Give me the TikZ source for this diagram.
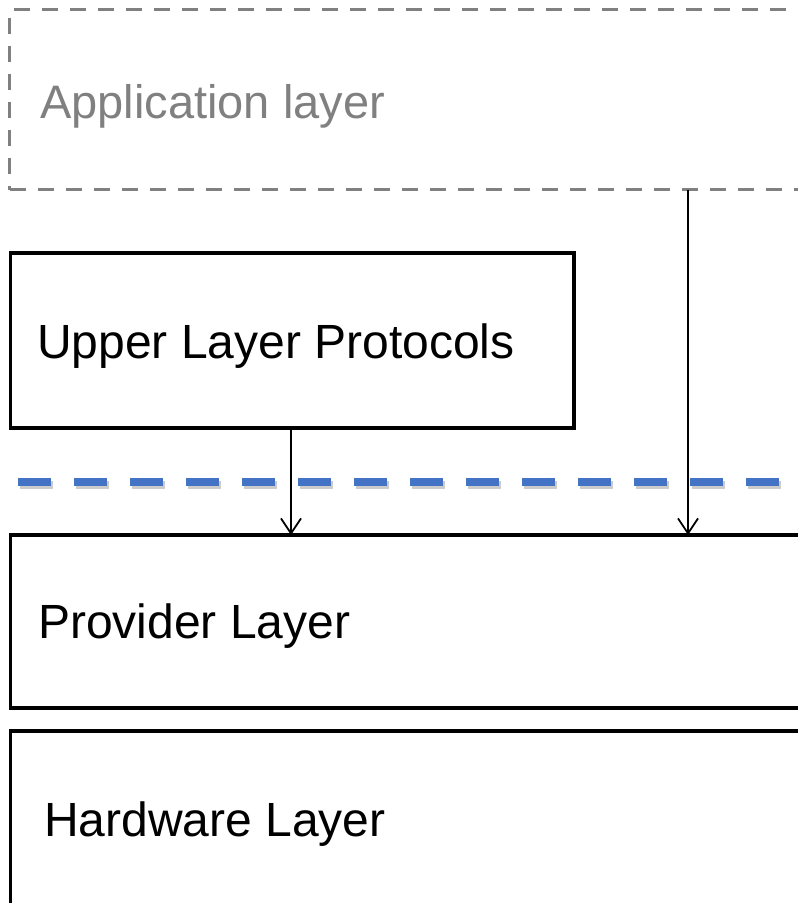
\documentclass[tikz,border=0pt]{standalone}
\usepackage{fontspec}
\setmainfont{Liberation Sans}
\usetikzlibrary{arrows.meta}
\definecolor{appgray}{HTML}{808080}
\definecolor{sepblue}{HTML}{4472C4}
\tikzset{
  layerbox/.style={draw=black, line width=3.5pt, inner sep=0pt, outer sep=0pt, anchor=north west},
  appbox/.style={draw=appgray, line width=3.5pt, dash pattern=on 16pt off 12pt, inner sep=0pt, outer sep=0pt, anchor=north west},
  lbl/.style={anchor=base west, inner sep=0pt, font=\fontsize{48}{58}\selectfont},
  arr/.style={line width=1.8pt, -{Straight Barb[length=15pt,width=20pt,line width=1.8pt]}},
}
\begin{document}
\begin{tikzpicture}[x=1pt,y=-1pt]
\useasboundingbox (0,0) rectangle (798,903);
\clip (0,0) rectangle (798,903);
% application layer (dashed)
\node[appbox, minimum width=900pt, minimum height=180pt] (app) at (9.5,9.5) {};
\node[lbl, text=appgray, font=\fontsize{47}{56}\selectfont] (apptxt) at (40,118) {Application layer};
% upper layer protocols
\node[layerbox, minimum width=563.5pt, minimum height=175pt] (ulp) at (10.5,253) {};
\node[lbl] (ulptxt) at (37,358) {Upper Layer Protocols};
% separator line with shadow
\coordinate (sepL) at (18,482);
\coordinate (sepR) at (781,482);
\draw[black, opacity=0.2, line width=8pt, dash pattern=on 33pt off 23pt] ([shift={(1.5,3)}]sepL) -- ([shift={(1.5,3)}]sepR);
\draw[sepblue, line width=8pt, dash pattern=on 33pt off 23pt] (sepL) -- (sepR);
% provider layer
\node[layerbox, minimum width=900pt, minimum height=173pt] (prov) at (10.5,535) {};
\node[lbl] (provtxt) at (38,638) {Provider Layer};
% hardware layer
\node[layerbox, minimum width=900pt, minimum height=260pt] (hw) at (10.5,731) {};
\node[lbl] (hwtxt) at (44,836) {Hardware Layer};
% arrows
\coordinate (a1) at (291,0);
\coordinate (a2) at (688,0);
\draw[arr] (a1 |- ulp.south) -- (a1 |- prov.north);
\draw[arr] (a2 |- app.south) -- (a2 |- prov.north);
\end{tikzpicture}
\end{document}
